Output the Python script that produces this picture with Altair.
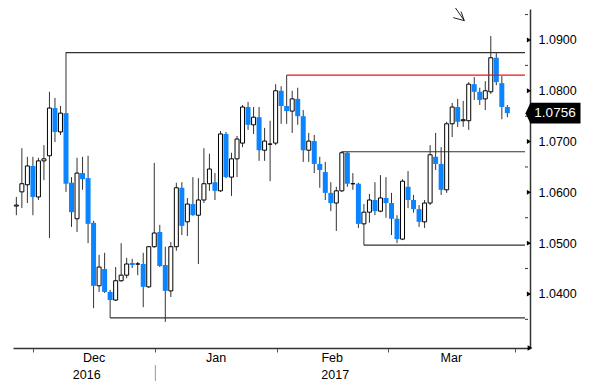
import altair as alt
import pandas as pd

# ---------------- data (EUR/USD daily candles) ----------------
dates = [d.strftime("%Y-%m-%d") for d in pd.bdate_range("2016-11-25", "2017-03-30")]

open_ = [1.0573, 1.0601, 1.0615, 1.0652, 1.0591, 1.0662, 1.0672, 1.0766, 1.0719, 1.0756,
         1.0619, 1.0548, 1.0638, 1.0628, 1.0540, 1.0416, 1.0449, 1.0404, 1.0388, 1.0426,
         1.0437, 1.0461, 1.0459, 1.0459, 1.0414, 1.0493, 1.0522, 1.0457, 1.0406, 1.0493,
         1.0609, 1.0542, 1.0577, 1.0555, 1.0585, 1.0617, 1.0620, 1.0603, 1.0715, 1.0630,
         1.0666, 1.0697, 1.0768, 1.0733, 1.0748, 1.0683, 1.0695, 1.0697, 1.0800, 1.0770,
         1.0760, 1.0784, 1.0750, 1.0683, 1.0701, 1.0656, 1.0640, 1.0599, 1.0579, 1.0603,
         1.0678, 1.0617, 1.0617, 1.0538, 1.0561, 1.0585, 1.0563, 1.0589, 1.0579, 1.0548,
         1.0508, 1.0611, 1.0585, 1.0567, 1.0542, 1.0579, 1.0670, 1.0656, 1.0605, 1.0735,
         1.0768, 1.0741, 1.0741, 1.0813, 1.0798, 1.0784, 1.0798, 1.0865, 1.0815, 1.0768]
high = [1.0591, 1.0687, 1.0670, 1.0670, 1.0668, 1.0693, 1.0798, 1.0786, 1.0770, 1.0876,
        1.0630, 1.0668, 1.0670, 1.0672, 1.0544, 1.0477, 1.0481, 1.0408, 1.0453, 1.0500,
        1.0471, 1.0469, 1.0463, 1.0481, 1.0494, 1.0658, 1.0536, 1.0493, 1.0502, 1.0619,
        1.0620, 1.0589, 1.0630, 1.0628, 1.0687, 1.0676, 1.0638, 1.0721, 1.0719, 1.0678,
        1.0711, 1.0772, 1.0778, 1.0768, 1.0768, 1.0727, 1.0741, 1.0813, 1.0809, 1.0831,
        1.0800, 1.0806, 1.0762, 1.0717, 1.0713, 1.0670, 1.0660, 1.0620, 1.0611, 1.0681,
        1.0680, 1.0638, 1.0619, 1.0577, 1.0597, 1.0620, 1.0634, 1.0630, 1.0599, 1.0555,
        1.0626, 1.0642, 1.0595, 1.0575, 1.0585, 1.0693, 1.0717, 1.0689, 1.0739, 1.0776,
        1.0784, 1.0780, 1.0817, 1.0827, 1.0806, 1.0819, 1.0908, 1.0874, 1.0829, 1.0772]
low = [1.0555, 1.0569, 1.0579, 1.0555, 1.0585, 1.0624, 1.0510, 1.0699, 1.0713, 1.0601,
       1.0532, 1.0522, 1.0605, 1.0500, 1.0372, 1.0404, 1.0402, 1.0353, 1.0386, 1.0424,
       1.0431, 1.0451, 1.0437, 1.0374, 1.0412, 1.0491, 1.0453, 1.0345, 1.0394, 1.0485,
       1.0516, 1.0514, 1.0554, 1.0459, 1.0579, 1.0603, 1.0585, 1.0601, 1.0628, 1.0593,
       1.0630, 1.0689, 1.0723, 1.0715, 1.0662, 1.0662, 1.0622, 1.0693, 1.0735, 1.0735,
       1.0717, 1.0733, 1.0660, 1.0660, 1.0638, 1.0609, 1.0585, 1.0563, 1.0524, 1.0601,
       1.0611, 1.0605, 1.0530, 1.0496, 1.0540, 1.0555, 1.0561, 1.0550, 1.0516, 1.0500,
       1.0506, 1.0569, 1.0560, 1.0532, 1.0530, 1.0575, 1.0644, 1.0595, 1.0599, 1.0709,
       1.0729, 1.0729, 1.0723, 1.0782, 1.0772, 1.0762, 1.0794, 1.0811, 1.0744, 1.0748]
close = [1.0575, 1.0617, 1.0652, 1.0591, 1.0662, 1.0666, 1.0766, 1.0719, 1.0756, 1.0617,
         1.0561, 1.0638, 1.0626, 1.0538, 1.0416, 1.0453, 1.0404, 1.0388, 1.0426, 1.0437,
         1.0459, 1.0457, 1.0459, 1.0414, 1.0493, 1.0520, 1.0455, 1.0406, 1.0493, 1.0609,
         1.0534, 1.0577, 1.0555, 1.0585, 1.0617, 1.0646, 1.0603, 1.0715, 1.0630, 1.0666,
         1.0705, 1.0768, 1.0733, 1.0748, 1.0683, 1.0701, 1.0695, 1.0800, 1.0770, 1.0760,
         1.0784, 1.0750, 1.0683, 1.0701, 1.0656, 1.0644, 1.0599, 1.0579, 1.0603, 1.0678,
         1.0617, 1.0617, 1.0538, 1.0561, 1.0585, 1.0563, 1.0589, 1.0579, 1.0548, 1.0508,
         1.0622, 1.0585, 1.0567, 1.0542, 1.0579, 1.0674, 1.0656, 1.0605, 1.0735, 1.0768,
         1.0739, 1.0743, 1.0813, 1.0798, 1.0782, 1.0800, 1.0865, 1.0817, 1.0768, 1.0756]

# horizontal support / resistance levels: start candle index, level, colour
level_start = [9, 49, 59, 63, 17]
level_value = [1.0875, 1.0831, 1.0680, 1.0496, 1.0353]
level_color = ["#303030", "#e8141c", "#303030", "#303030", "#303030"]

# axes
price_ticks = [1.04, 1.05, 1.06, 1.07, 1.08, 1.09]
minor_ticks = [1.035, 1.045, 1.055, 1.065, 1.075, 1.085, 1.095]
month_bounds = [3.0, 25.2, 47.2, 67.3, 90.4]
month_names = ["Dec", "Jan", "Feb", "Mar"]
year_names = ["2016", "2017"]
year_bounds = [0.3, 25.2, 90.4]
last_price = 1.0756

# annotation arrow (index, price) segments
arrow_x = [79.6, 81.2, 81.2]
arrow_y = [1.0963, 1.0938, 1.0938]
arrow_x2 = [81.2, 79.2, 80.6]
arrow_y2 = [1.0938, 1.0944, 1.0956]

# ---------------- frames ----------------
n = len(open_)
df = pd.DataFrame({"i": list(range(n)), "date": dates[:n], "open": open_, "high": high,
                   "low": low, "close": close})
df_up = df[df["close"] >= df["open"]]
df_dn = df[df["close"] < df["open"]]

X0, X1 = 0.3, 92.2
Y0, Y1 = 1.02936, 1.0961
xs = alt.Scale(domain=[X0, X1], nice=False, zero=False)
ys = alt.Scale(domain=[Y0, Y1], nice=False, zero=False)
FONT = "Liberation Sans"

AX = alt.Axis(orient="bottom", values=month_bounds, labels=False, tickSize=4,
              tickColor="#555555", tickWidth=1, domainColor="#333333",
              domainWidth=1.5, grid=False, title=None)
AY = alt.Axis(orient="right", values=price_ticks, format=".4f", tickSize=0,
              labelPadding=8, domainColor="#333333", domainWidth=1.5,
              labelFont=FONT, labelFontSize=12.5, labelColor="black",
              grid=False, title=None)


def X(f):
    return alt.X(f, scale=xs, axis=AX)


def Y(f):
    return alt.Y(f, scale=ys, axis=AY)


levels = pd.DataFrame({"start": level_start, "level": level_value, "color": level_color,
                       "end": [X1] * len(level_start)})
months = pd.DataFrame({"name": month_names,
                       "x": [(month_bounds[k] + month_bounds[k + 1]) / 2 for k in range(4)],
                       "y": [Y0] * 4})
years = pd.DataFrame({"name": year_names,
                      "x": [(year_bounds[k] + year_bounds[k + 1]) / 2 for k in range(2)],
                      "y": [Y0] * 2})
ticks = pd.DataFrame({"v": price_ticks, "x": [X1] * len(price_ticks)})
minors = pd.DataFrame({"v": minor_ticks, "x": [X1] * len(minor_ticks)})
arrow = pd.DataFrame({"x": arrow_x, "y": arrow_y, "x2": arrow_x2, "y2": arrow_y2})
lastp = pd.DataFrame({"x": [X1], "y": [last_price], "t": [f"{last_price:.4f}"]})
sep = pd.DataFrame({"x": [year_bounds[1]], "y": [Y0]})
corner = pd.DataFrame({"x": [X1], "y": [Y0]})

wicks = alt.Chart(df).mark_rule(color="#333333", strokeWidth=1).encode(
    x=X("i:Q"), y=Y("low:Q"), y2="high:Q")

bodies_dn = alt.Chart(df_dn).mark_bar(size=5, color="#0a84ff").encode(
    x=X("i:Q"), y=Y("open:Q"), y2="close:Q")
bodies_up = alt.Chart(df_up).mark_bar(size=4, fill="white", stroke="black",
                                      strokeWidth=1).encode(
    x=X("i:Q"), y=Y("open:Q"), y2="close:Q")

level_rules = alt.Chart(levels).mark_rule(strokeWidth=1.2).encode(
    x=X("start:Q"), x2="end:Q", y=Y("level:Q"),
    color=alt.Color("color:N", scale=None, legend=None))

tri = alt.Chart(ticks).mark_point(shape="triangle-right", filled=True, size=24,
                                  color="black", opacity=1, xOffset=4).encode(
    x=X("x:Q"), y=Y("v:Q"))
minor = alt.Chart(minors).mark_rule(color="#333333", strokeWidth=1, x2Offset=3).encode(
    x=X("x:Q"), x2="x:Q", y=Y("v:Q"))

month_txt = alt.Chart(months).mark_text(font=FONT, fontSize=12.5, color="black",
                                        baseline="middle", dy=10).encode(
    x=X("x:Q"), y=Y("y:Q"), text="name:N")
year_txt = alt.Chart(years).mark_text(font=FONT, fontSize=12.5, color="black",
                                      baseline="middle", dy=27).encode(
    x=X("x:Q"), y=Y("y:Q"), text="name:N")
sep_rule = alt.Chart(sep).mark_rule(color="#999999", strokeWidth=1, yOffset=17,
                                    y2Offset=33).encode(
    x=X("x:Q"), y=Y("y:Q"), y2="y:Q")
x_arrow = alt.Chart(corner).mark_point(shape="triangle-right", filled=True, size=30,
                                       color="black", opacity=1, xOffset=5).encode(
    x=X("x:Q"), y=Y("y:Q"))

tag_shape = "M-1,0 L-0.82,-0.38 L1,-0.38 L1,0.38 L-0.82,0.38 Z"
last_box = alt.Chart(lastp).mark_point(shape=tag_shape, filled=True, size=3025,
                                       color="black", opacity=1, xOffset=28).encode(
    x=X("x:Q"), y=Y("y:Q"))
last_txt = alt.Chart(lastp).mark_text(font=FONT, fontSize=13.5, color="white",
                                      baseline="middle", align="center", dx=30).encode(
    x=X("x:Q"), y=Y("y:Q"), text="t:N")

arrow_rules = alt.Chart(arrow).mark_rule(color="#222222", strokeWidth=1).encode(
    x=X("x:Q"), x2="x2:Q", y=Y("y:Q"), y2="y2:Q")

chart = alt.layer(
    wicks, bodies_dn, bodies_up, level_rules, tri, minor, month_txt, year_txt,
    sep_rule, x_arrow, last_box, last_txt, arrow_rules,
).properties(
    width=517, height=339,
    autosize=alt.AutoSizeParams(type="none"),
    padding={"left": 5, "top": 1, "right": 60, "bottom": 34},
    background="white",
).configure_view(stroke=None)

chart.save("out.html", embed_options={"renderer": "svg", "actions": False})
